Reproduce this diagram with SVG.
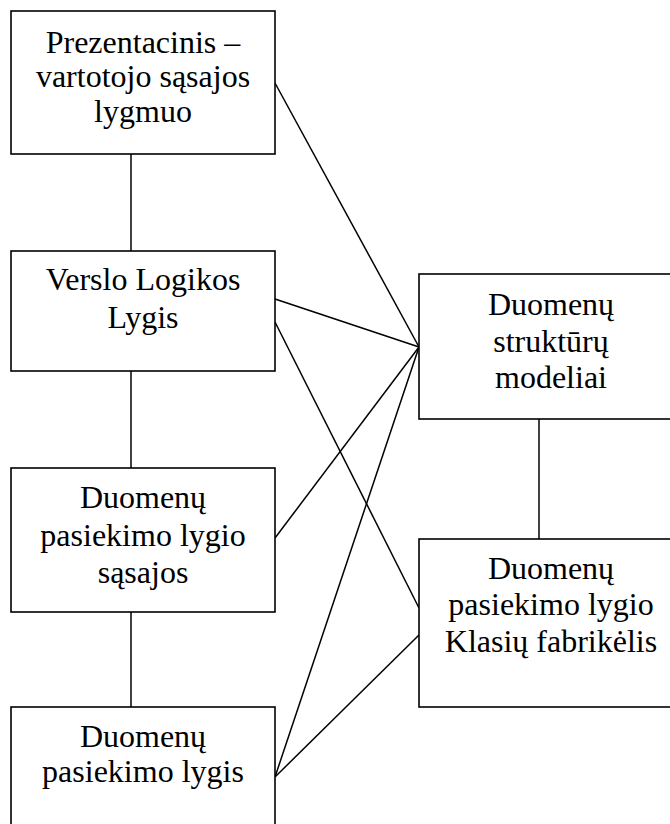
<svg xmlns="http://www.w3.org/2000/svg" width="670" height="824" viewBox="0 0 670 824" font-family="Liberation Serif, serif">
<style>
.box{fill:#fff;stroke:#000;stroke-width:1.6}
.ln{stroke:#000;stroke-width:1.5;fill:none}
.t{font-size:32px;fill:#000;text-anchor:middle}
</style>
<rect width="670" height="824" fill="#fff"/>
<g id="connectors">
<line class="ln" x1="131" y1="154" x2="131" y2="251"/>
<line class="ln" x1="131" y1="371" x2="131" y2="468"/>
<line class="ln" x1="131" y1="612" x2="131" y2="707"/>
<line class="ln" x1="539" y1="419" x2="539" y2="539"/>
<line class="ln" x1="275" y1="83" x2="419" y2="347"/>
<line class="ln" x1="275" y1="299" x2="419" y2="347"/>
<line class="ln" x1="275" y1="322" x2="419" y2="608"/>
<line class="ln" x1="275" y1="538" x2="419" y2="347"/>
<line class="ln" x1="275" y1="777" x2="419" y2="347"/>
<line class="ln" x1="275" y1="777" x2="419" y2="635"/>
</g>
<g id="n1">
<rect class="box" x="11" y="11" width="264" height="143"/>
<text class="t" font-family="Liberation Serif, serif" x="143" y="53">Prezentacinis –</text>
<text class="t" font-family="Liberation Serif, serif" x="143" y="87">vartotojo sąsajos</text>
<text class="t" font-family="Liberation Serif, serif" x="143" y="122">lygmuo</text>
</g>
<g id="n2">
<rect class="box" x="11" y="251" width="264" height="120"/>
<text class="t" font-family="Liberation Serif, serif" x="143" y="290">Verslo Logikos</text>
<text class="t" font-family="Liberation Serif, serif" x="143" y="328">Lygis</text>
</g>
<g id="n3">
<rect class="box" x="11" y="468" width="264" height="144"/>
<text class="t" font-family="Liberation Serif, serif" x="143" y="508">Duomenų</text>
<text class="t" font-family="Liberation Serif, serif" x="143" y="546">pasiekimo lygio</text>
<text class="t" font-family="Liberation Serif, serif" x="143" y="583">sąsajos</text>
</g>
<g id="n4">
<rect class="box" x="11" y="707" width="264" height="150"/>
<text class="t" font-family="Liberation Serif, serif" x="143" y="747">Duomenų</text>
<text class="t" font-family="Liberation Serif, serif" x="143" y="782">pasiekimo lygis</text>
</g>
<g id="n5">
<rect class="box" x="419" y="274" width="264" height="145"/>
<text class="t" font-family="Liberation Serif, serif" x="551" y="315">Duomenų</text>
<text class="t" font-family="Liberation Serif, serif" x="551" y="352">struktūrų</text>
<text class="t" font-family="Liberation Serif, serif" x="551" y="388">modeliai</text>
</g>
<g id="n6">
<rect class="box" x="419" y="539" width="264" height="168"/>
<text class="t" font-family="Liberation Serif, serif" x="551" y="579">Duomenų</text>
<text class="t" font-family="Liberation Serif, serif" x="551" y="615">pasiekimo lygio</text>
<text class="t" font-family="Liberation Serif, serif" x="551" y="652">Klasių fabrikėlis</text>
</g>
</svg>
